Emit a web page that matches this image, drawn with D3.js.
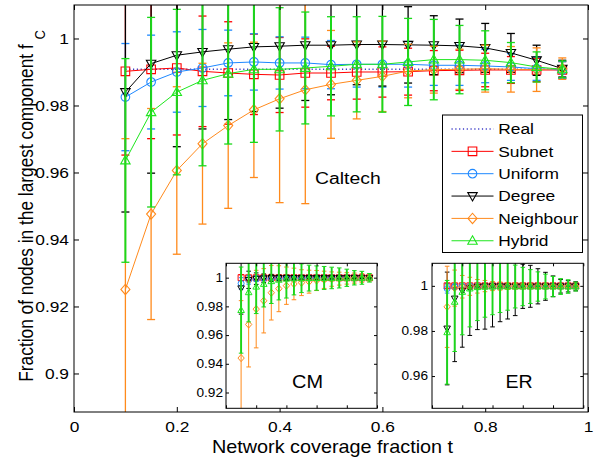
<!DOCTYPE html>
<html>
<head>
<meta charset="utf-8">
<script src="https://cdn.jsdelivr.net/npm/d3@7"></script>
<style>
  body { margin: 0; background: #fff; }
  svg { display: block; }
  text { font-family: "Liberation Sans", Arial, Helvetica, sans-serif; fill: #000; }
</style>
</head>
<body>
<svg id="chart" width="605" height="459"></svg>
<script>
// ---- sampled coverage fractions ----
const tValues = [0.10, 0.15, 0.20, 0.25, 0.30, 0.35, 0.40, 0.45, 0.50, 0.55, 0.60, 0.65, 0.70, 0.75, 0.80, 0.85, 0.90, 0.95];

// ---- Caltech (main panel): mean and standard deviation ----
const caltechReal = [0.9908, 0.9908, 0.9908, 0.9908, 0.9908, 0.9908, 0.9908, 0.9908, 0.9908, 0.9908, 0.9908, 0.9908, 0.9908, 0.9908, 0.9908, 0.9908, 0.9908, 0.9908];
const caltechSubnet = [0.9902, 0.9908, 0.9912, 0.9902, 0.9897, 0.9893, 0.9891, 0.9897, 0.9897, 0.9900, 0.9900, 0.9901, 0.9904, 0.9905, 0.9906, 0.9906, 0.9906, 0.9906];
const caltechSubnetErr = [0.0250, 0.0207, 0.0200, 0.0165, 0.0153, 0.0120, 0.0112, 0.0102, 0.0080, 0.0081, 0.0075, 0.0070, 0.0060, 0.0060, 0.0050, 0.0040, 0.0035, 0.0025];
const caltechUniform = [0.9825, 0.9870, 0.9900, 0.9912, 0.9927, 0.9930, 0.9927, 0.9927, 0.9922, 0.9923, 0.9923, 0.9923, 0.9920, 0.9920, 0.9918, 0.9915, 0.9910, 0.9906];
const caltechUniformErr = [0.0160, 0.0140, 0.0120, 0.0115, 0.0098, 0.0084, 0.0078, 0.0077, 0.0072, 0.0068, 0.0068, 0.0068, 0.0060, 0.0060, 0.0050, 0.0040, 0.0035, 0.0025];
const caltechDegree = [0.9840, 0.9925, 0.9950, 0.9960, 0.9968, 0.9975, 0.9977, 0.9980, 0.9980, 0.9982, 0.9982, 0.9981, 0.9980, 0.9978, 0.9972, 0.9957, 0.9935, 0.9910];
const caltechDegreeErr = [0.0358, 0.0327, 0.0273, 0.0230, 0.0210, 0.0193, 0.0185, 0.0165, 0.0148, 0.0120, 0.0124, 0.0114, 0.0088, 0.0080, 0.0073, 0.0058, 0.0045, 0.0025];
const caltechNeighbour = [0.9251, 0.9476, 0.9606, 0.9686, 0.9740, 0.9787, 0.9820, 0.9847, 0.9863, 0.9875, 0.9887, 0.9903, 0.9907, 0.9908, 0.9910, 0.9908, 0.9907, 0.9910];
const caltechNeighbourErr = [0.0450, 0.0315, 0.0250, 0.0240, 0.0247, 0.0202, 0.0310, 0.0340, 0.0161, 0.0115, 0.0105, 0.0080, 0.0070, 0.0060, 0.0070, 0.0068, 0.0065, 0.0032];
const caltechHybrid = [0.9636, 0.9780, 0.9840, 0.9875, 0.9895, 0.9908, 0.9908, 0.9912, 0.9917, 0.9923, 0.9923, 0.9930, 0.9937, 0.9937, 0.9935, 0.9928, 0.9915, 0.9908];
const caltechHybridErr = [0.0304, 0.0283, 0.0247, 0.0255, 0.0210, 0.0218, 0.0184, 0.0167, 0.0148, 0.0142, 0.0143, 0.0130, 0.0120, 0.0102, 0.0088, 0.0060, 0.0045, 0.0025];

// ---- CM inset ----
const cmSubnet = [1.0000, 0.9999, 0.9999, 0.9999, 0.9999, 0.9999, 0.9999, 0.9999, 0.9999, 0.9999, 0.9999, 0.9999, 0.9999, 0.9999, 0.9999, 0.9999, 0.9999, 0.9999];
const cmSubnetErr = [0.0020, 0.0015, 0.0012, 0.0010, 0.0010, 0.0008, 0.0008, 0.0007, 0.0006, 0.0006, 0.0005, 0.0005, 0.0004, 0.0004, 0.0003, 0.0003, 0.0003, 0.0002];
const cmUniform = [0.9960, 0.9985, 0.9993, 0.9996, 0.9997, 0.9998, 0.9998, 0.9998, 0.9999, 0.9999, 0.9999, 0.9999, 0.9999, 0.9999, 0.9999, 0.9999, 0.9999, 0.9999];
const cmUniformErr = [0.0040, 0.0030, 0.0020, 0.0018, 0.0015, 0.0012, 0.0010, 0.0010, 0.0008, 0.0008, 0.0007, 0.0006, 0.0005, 0.0005, 0.0004, 0.0004, 0.0003, 0.0002];
const cmDegree = [0.9926, 0.9985, 0.9993, 0.9996, 0.9998, 0.9998, 0.9999, 0.9999, 0.9999, 0.9999, 0.9999, 0.9999, 0.9999, 0.9999, 0.9999, 0.9999, 0.9999, 0.9999];
const cmDegreeErr = [0.0180, 0.0060, 0.0040, 0.0030, 0.0025, 0.0020, 0.0018, 0.0015, 0.0013, 0.0012, 0.0010, 0.0010, 0.0008, 0.0008, 0.0006, 0.0005, 0.0004, 0.0003];
const cmNeighbour = [0.9440, 0.9674, 0.9781, 0.9839, 0.9895, 0.9923, 0.9944, 0.9956, 0.9965, 0.9972, 0.9980, 0.9985, 0.9990, 0.9993, 0.9995, 0.9997, 0.9998, 0.9999];
const cmNeighbourErr = [0.0400, 0.0296, 0.0270, 0.0224, 0.0190, 0.0160, 0.0130, 0.0110, 0.0090, 0.0080, 0.0070, 0.0060, 0.0050, 0.0045, 0.0040, 0.0035, 0.0030, 0.0020];
const cmHybrid = [0.9774, 0.9898, 0.9937, 0.9956, 0.9975, 0.9985, 0.9993, 0.9995, 0.9996, 0.9997, 0.9997, 0.9998, 0.9998, 0.9998, 0.9999, 0.9999, 0.9999, 0.9999];
const cmHybridErr = [0.0300, 0.0206, 0.0187, 0.0160, 0.0155, 0.0140, 0.0135, 0.0115, 0.0100, 0.0090, 0.0085, 0.0080, 0.0075, 0.0070, 0.0060, 0.0050, 0.0045, 0.0030];

// ---- ER inset ----
const erSubnet = [1.0000, 1.0000, 1.0000, 1.0000, 1.0000, 1.0000, 1.0000, 1.0000, 1.0000, 1.0000, 1.0000, 1.0000, 1.0000, 1.0000, 1.0000, 1.0000, 1.0000, 1.0000];
const erSubnetErr = [0.0010, 0.0008, 0.0006, 0.0005, 0.0004, 0.0004, 0.0003, 0.0003, 0.0003, 0.0002, 0.0002, 0.0002, 0.0002, 0.0002, 0.0001, 0.0001, 0.0001, 0.0001];
const erUniform = [0.9988, 0.9996, 0.9998, 0.9999, 0.9999, 0.9999, 0.9999, 0.9999, 0.9999, 0.9999, 0.9999, 0.9999, 0.9999, 0.9999, 0.9999, 0.9999, 0.9999, 0.9999];
const erUniformErr = [0.0020, 0.0012, 0.0008, 0.0006, 0.0005, 0.0004, 0.0004, 0.0003, 0.0003, 0.0003, 0.0002, 0.0002, 0.0002, 0.0002, 0.0002, 0.0001, 0.0001, 0.0001];
const erDegree = [0.9811, 0.9944, 0.9978, 0.9990, 0.9996, 0.9998, 0.9998, 0.9998, 0.9998, 0.9998, 0.9998, 0.9998, 0.9998, 0.9998, 0.9998, 0.9998, 0.9998, 0.9998];
const erDegreeErr = [0.0250, 0.0280, 0.0250, 0.0210, 0.0190, 0.0190, 0.0180, 0.0157, 0.0145, 0.0130, 0.0098, 0.0093, 0.0078, 0.0062, 0.0046, 0.0030, 0.0025, 0.0020];
const erNeighbour = [0.9907, 0.9990, 0.9996, 0.9998, 0.9998, 0.9999, 0.9999, 0.9999, 0.9999, 0.9999, 0.9999, 0.9999, 0.9999, 0.9999, 0.9999, 0.9999, 0.9999, 0.9999];
const erNeighbourErr = [0.0180, 0.0080, 0.0050, 0.0040, 0.0030, 0.0025, 0.0020, 0.0018, 0.0015, 0.0012, 0.0010, 0.0010, 0.0008, 0.0008, 0.0007, 0.0006, 0.0006, 0.0005];
const erHybrid = [0.9794, 0.9929, 0.9973, 0.9988, 0.9994, 0.9996, 0.9997, 0.9997, 0.9997, 0.9997, 0.9997, 0.9997, 0.9997, 0.9997, 0.9997, 0.9997, 0.9997, 0.9997];
const erHybridErr = [0.0230, 0.0220, 0.0190, 0.0170, 0.0148, 0.0135, 0.0125, 0.0115, 0.0105, 0.0095, 0.0085, 0.0075, 0.0065, 0.0055, 0.0045, 0.0035, 0.0030, 0.0020];

// ---- axis ticks ----
const xTicks = [0, 0.2, 0.4, 0.6, 0.8, 1];
const mainYTicks = [0.9, 0.92, 0.94, 0.96, 0.98, 1];
const cmYTicks = [0.92, 0.94, 0.96, 0.98, 1];
const erYTicks = [0.96, 0.98, 1];

const legendNames = ["Real", "Subnet", "Uniform", "Degree", "Neighbour", "Hybrid"];

// ---- drawing ----
const svg = d3.select("#chart");
const SX = 1.12;                      // glyphs are rendered slightly wide
const FONT = '"Liberation Sans", Arial, Helvetica, sans-serif';
const fmt = d3.format("~g");

const styles = {
  Real:      { color: "#3c3cc8", marker: null, dash: "1.2,2.6" },
  Subnet:    { color: "#ff0000", marker: "square" },
  Uniform:   { color: "#1e88ff", marker: "circle" },
  Degree:    { color: "#000000", marker: "triDown" },
  Neighbour: { color: "#ff8a1c", marker: "diamond" },
  Hybrid:    { color: "#1ee61e", marker: "triUp", barColor: "#1ad81a" }
};

function markerPath(type, h) {
  switch (type) {
    case "square":  return `M${-h},${-h}H${h}V${h}H${-h}Z`;
    case "circle":  return `M${h},0A${h},${h} 0 1,1 ${-h},0A${h},${h} 0 1,1 ${h},0Z`;
    case "diamond": return `M0,${-h * 1.2}L${h * 1.05},0L0,${h * 1.2}L${-h * 1.05},0Z`;
    case "triUp":   return `M0,${-h * 1.15}L${h * 1.1},${h * 0.8}L${-h * 1.1},${h * 0.8}Z`;
    case "triDown": return `M0,${h * 1.15}L${h * 1.1},${-h * 0.8}L${-h * 1.1},${-h * 0.8}Z`;
  }
  return "";
}

function putText(g, x, y, str, size, anchor) {
  return g.append("text")
    .attr("transform", `translate(${x},${y}) scale(${SX},1)`)
    .attr("font-size", size)
    .attr("text-anchor", anchor || "start")
    .text(str);
}

function stretchTicks(axisG, size, kind) {
  axisG.attr("font-family", FONT).attr("font-size", size);
  axisG.selectAll("text").each(function () {
    const t = d3.select(this);
    if (kind === "left") t.attr("x", +t.attr("x") / SX);
    t.attr("transform", `scale(${SX},1)`);
  });
}

function panel(cfg) {
  const x = d3.scaleLinear().domain([0, 1]).range([cfg.left, cfg.right]);
  const y = d3.scaleLinear().domain(cfg.yDomain).range([cfg.bottom, cfg.top]);
  const g = svg.append("g");

  g.append("rect")
    .attr("x", cfg.left).attr("y", cfg.top)
    .attr("width", cfg.right - cfg.left).attr("height", cfg.bottom - cfg.top)
    .attr("fill", "#fff");

  const clipId = "clip-" + cfg.id;
  svg.append("clipPath").attr("id", clipId).append("rect")
    .attr("x", cfg.left).attr("y", cfg.top)
    .attr("width", cfg.right - cfg.left).attr("height", cfg.bottom - cfg.top);

  const plot = g.append("g").attr("clip-path", `url(#${clipId})`);

  cfg.series.forEach(s => {
    const st = styles[s.name];
    const sg = plot.append("g");
    const pts = tValues.map((t, i) => ({ t, v: s.mean[i], e: s.err ? s.err[i] : 0 }));
    if (s.err) {
      const bc = st.barColor || st.color;
      const bw = s.name === "Hybrid" ? cfg.greenBarW : cfg.barW;
      const bars = sg.append("g").attr("stroke", bc).attr("stroke-width", bw).attr("fill", "none");
      pts.forEach(p => {
        const cx = x(p.t), y1 = y(p.v - p.e), y2 = y(p.v + p.e);
        bars.append("line").attr("x1", cx).attr("x2", cx).attr("y1", y1).attr("y2", y2);
        bars.append("line").attr("x1", cx - cfg.cap).attr("x2", cx + cfg.cap).attr("y1", y1).attr("y2", y1)
          .attr("stroke-width", cfg.barW);
        bars.append("line").attr("x1", cx - cfg.cap).attr("x2", cx + cfg.cap).attr("y1", y2).attr("y2", y2)
          .attr("stroke-width", cfg.barW);
      });
    }
    if (cfg.lines) {
      sg.append("path").datum(pts)
        .attr("fill", "none").attr("stroke", st.color)
        .attr("stroke-width", st.dash ? 1.6 : cfg.lineW)
        .attr("stroke-dasharray", st.dash || null)
        .attr("d", d3.line().x(d => x(d.t)).y(d => y(d.v)));
    }
    if (st.marker) {
      sg.append("g").selectAll("path").data(pts).join("path")
        .attr("transform", d => `translate(${x(d.t)},${y(d.v)})`)
        .attr("d", markerPath(st.marker, cfg.markerH))
        .attr("fill", "none").attr("stroke", st.color).attr("stroke-width", cfg.markerW);
    }
  });

  // inward ticks on all four sides
  const tl = cfg.tickLen;
  const ax = g.append("g").attr("transform", `translate(${cfg.left},0)`)
    .call(d3.axisLeft(y).tickValues(cfg.yTicks).tickSize(-tl).tickPadding(cfg.pad).tickFormat(fmt));
  ax.select(".domain").remove();
  stretchTicks(ax, cfg.tickFont, "left");

  const ar = g.append("g").attr("transform", `translate(${cfg.right},0)`)
    .call(d3.axisRight(y).tickValues(cfg.yTicks).tickSize(-tl).tickFormat(""));
  ar.select(".domain").remove();

  const at = g.append("g").attr("transform", `translate(0,${cfg.top})`)
    .call(d3.axisTop(x).tickValues(xTicks).tickSize(-tl).tickFormat(""));
  at.select(".domain").remove();

  const ab = g.append("g").attr("transform", `translate(0,${cfg.bottom})`)
    .call(d3.axisBottom(x).tickValues(xTicks).tickSize(-tl).tickPadding(cfg.xPad || 0)
      .tickFormat(cfg.xLabels ? fmt : ""));
  ab.select(".domain").remove();
  if (cfg.xLabels) stretchTicks(ab, cfg.tickFont, "bottom");

  g.append("rect")
    .attr("x", cfg.left).attr("y", cfg.top)
    .attr("width", cfg.right - cfg.left).attr("height", cfg.bottom - cfg.top)
    .attr("fill", "none").attr("stroke", "#000").attr("stroke-width", 1);

  return { g, x, y };
}

// main Caltech panel
const main = panel({
  id: "caltech", left: 74, right: 588, top: 5, bottom: 412,
  yDomain: [0.8885, 1.01], yTicks: mainYTicks,
  tickLen: 5, pad: 5, xPad: 9, tickFont: 15.5, xLabels: true,
  cap: 4, barW: 1.3, greenBarW: 2.0, lineW: 1, markerH: 4.3, markerW: 1.1, lines: true,
  series: [
    { name: "Real", mean: caltechReal },
    { name: "Subnet", mean: caltechSubnet, err: caltechSubnetErr },
    { name: "Uniform", mean: caltechUniform, err: caltechUniformErr },
    { name: "Degree", mean: caltechDegree, err: caltechDegreeErr },
    { name: "Neighbour", mean: caltechNeighbour, err: caltechNeighbourErr },
    { name: "Hybrid", mean: caltechHybrid, err: caltechHybridErr }
  ]
});

putText(main.g, 315, 184.3, "Caltech", 17.3, "start");

// legend
const leg = main.g.append("g");
leg.append("rect").attr("x", 442.5).attr("y", 115).attr("width", 140).attr("height", 137.5)
  .attr("fill", "#fff").attr("stroke", "#000").attr("stroke-width", 1);
legendNames.forEach((name, i) => {
  const st = styles[name];
  const base = 134.3 + i * 22.35;
  const cy = base - 5.3;
  leg.append("line").attr("x1", 451.5).attr("x2", 493.5).attr("y1", cy).attr("y2", cy)
    .attr("stroke", st.color).attr("stroke-width", st.dash ? 1.6 : 1)
    .attr("stroke-dasharray", st.dash || null);
  if (st.marker) {
    leg.append("path").attr("transform", `translate(472.5,${cy})`)
      .attr("d", markerPath(st.marker, 4.3))
      .attr("fill", "none").attr("stroke", st.color).attr("stroke-width", 1.1);
  }
  putText(leg, 498.3, base, name, 15.5, "start");
});

// axis titles
putText(svg, 332.5, 453.3, "Network coverage fraction t", 17.7, "middle");
const yl = svg.append("text")
  .attr("transform", `translate(33,381.7) scale(${SX},1) rotate(-90)`)
  .attr("font-size", 17.3);
yl.append("tspan").text("Fraction of nodes in the largest component f ");
yl.append("tspan").attr("font-size", 13).attr("dy", 11.5 / SX).text("C");

// CM inset
const cm = panel({
  id: "cm", left: 226, right: 377, top: 263.3, bottom: 408.3,
  yDomain: [0.909, 1.01], yTicks: cmYTicks,
  tickLen: 3, pad: 3, tickFont: 12.2, xLabels: false,
  cap: 2.3, barW: 1, greenBarW: 1.9, lineW: 0.8, markerH: 3.0, markerW: 1, lines: false,
  series: [
    { name: "Subnet", mean: cmSubnet, err: cmSubnetErr },
    { name: "Uniform", mean: cmUniform, err: cmUniformErr },
    { name: "Degree", mean: cmDegree, err: cmDegreeErr },
    { name: "Neighbour", mean: cmNeighbour, err: cmNeighbourErr },
    { name: "Hybrid", mean: cmHybrid, err: cmHybridErr }
  ]
});
putText(cm.g, 307.5, 388.3, "CM", 17.8, "middle");

// ER inset
const er = panel({
  id: "er", left: 432, right: 583.3, top: 263.3, bottom: 408.3,
  yDomain: [0.9457, 1.01], yTicks: erYTicks,
  tickLen: 3, pad: 4, tickFont: 12.2, xLabels: false,
  cap: 2.3, barW: 1, greenBarW: 1.9, lineW: 0.8, markerH: 3.0, markerW: 1, lines: false,
  series: [
    { name: "Subnet", mean: erSubnet, err: erSubnetErr },
    { name: "Uniform", mean: erUniform, err: erUniformErr },
    { name: "Degree", mean: erDegree, err: erDegreeErr },
    { name: "Neighbour", mean: erNeighbour, err: erNeighbourErr },
    { name: "Hybrid", mean: erHybrid, err: erHybridErr }
  ]
});
putText(er.g, 519, 387.7, "ER", 17.5, "middle");
</script>
</body>
</html>
